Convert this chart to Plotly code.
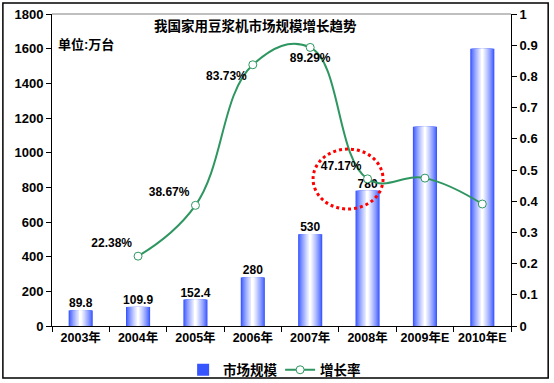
import plotly.graph_objects as go

categories = ["2003年", "2004年", "2005年", "2006年", "2007年", "2008年", "2009年E", "2010年E"]
market_size = [89.8, 109.9, 152.4, 280, 530, 780, 1150, 1600]
size_labels = ["89.8", "109.9", "152.4", "280", "530", "780", "", ""]
growth_categories = ["2004年", "2005年", "2006年", "2007年", "2008年", "2009年E", "2010年E"]
growth_rate = [0.2238, 0.3867, 0.8373, 0.8929, 0.4717, 0.474, 0.391]
growth_labels = ["22.38%", "38.67%", "83.73%", "89.29%", "47.17%", "", ""]
growth_label_pos = ["top left", "top left", "bottom left", "bottom center", "top left", "top left", "top left"]

FONT = "Liberation Sans, Arial, Noto Sans CJK SC, sans-serif"
fig = go.Figure()

# gradient bars: stacked overlay layers from blue edges to white centre
N = 14
w0 = 0.42
edge = (55, 85, 255)
for i in range(N):
    t = i / (N - 1)
    t = t ** 0.8
    c = tuple(int(edge[k] + (255 - edge[k]) * t) for k in range(3))
    fig.add_trace(go.Bar(
        x=categories, y=market_size,
        width=w0 * (1 - i / N),
        marker=dict(color="rgb(%d,%d,%d)" % c, line=dict(width=0)),
        name="市场规模", showlegend=(i == 0), legendgroup="bar",
        hoverinfo="skip" if i else None,
    ))

fig.add_trace(go.Scatter(
    x=categories, y=market_size, text=size_labels, mode="text",
    textposition="top center", showlegend=False,
    textfont=dict(family=FONT, size=12, color="black", weight="bold"), cliponaxis=False,
))

fig.add_trace(go.Scatter(
    x=growth_categories, y=growth_rate, yaxis="y2",
    mode="lines+markers+text", name="增长率",
    line=dict(color="#2E9660", width=2, shape="spline", smoothing=1.2),
    marker=dict(symbol="circle", size=8, color="white", line=dict(color="#2E9660", width=1)),
    text=growth_labels, textposition=growth_label_pos,
    textfont=dict(family=FONT, size=12, color="black", weight="bold"), cliponaxis=False,
))

tf = dict(family=FONT, size=13, color="black", weight="bold")
fig.update_layout(
    width=554, height=383,
    margin=dict(l=52, r=43, t=14, b=57, autoexpand=False),
    paper_bgcolor="white", plot_bgcolor="white",
    barmode="overlay",
    font=dict(family=FONT, size=12, color="black"),
    xaxis=dict(type="category", range=[-0.5, 7.5], showline=True, linecolor="black", linewidth=1,
               ticks="outside", tickson="boundaries", ticklen=5, tickcolor="black", tickangle=0,
               tickfont=dict(family=FONT, size=12.5, color="black", weight="bold"),
               showgrid=False, zeroline=False, automargin=False),
    yaxis=dict(range=[0, 1800], dtick=200, showline=True, linecolor="black", linewidth=1,
               ticks="outside", ticklen=5, tickcolor="black",
               tickfont=tf, showgrid=False, zeroline=False, automargin=False),
    yaxis2=dict(range=[0, 1], dtick=0.1, overlaying="y", side="right", showline=True,
                linecolor="black", linewidth=1, ticks="outside", ticklen=5, tickcolor="black",
                tickfont=tf, showgrid=False, zeroline=False, automargin=False),
    legend=dict(orientation="h", x=0.497, xanchor="center", y=-0.141, yanchor="middle",
                font=dict(family=FONT, size=13.5, color="black", weight="bold"),
                bgcolor="rgba(0,0,0,0)", tracegroupgap=0, itemwidth=30,
                entrywidth=52, entrywidthmode="pixels"),
    showlegend=True,
    annotations=[
        dict(text="<b>我国家用豆浆机市场规模增长趋势</b>", xref="paper", yref="paper",
             x=0.444, y=0.962, xanchor="center", yanchor="middle", showarrow=False,
             font=dict(family=FONT, size=13.5, color="black")),
        dict(text="<b>单位:万台</b>", xref="paper", yref="paper",
             x=0.008, y=0.903, xanchor="left", yanchor="middle", showarrow=False,
             font=dict(family=FONT, size=13, color="black")),
    ],
    shapes=[
        dict(type="line", xref="paper", yref="paper", x0=0, x1=1, y0=1, y1=1,
             line=dict(color="gray", width=1)),
        dict(type="circle", xref="x", yref="y", x0=4.05, x1=5.27, y0=675, y1=1021,
             line=dict(color="red", width=3, dash="dot")),
        dict(type="rect", xref="paper", yref="paper", x0=-0.107, x1=1.081, y0=-0.167, y1=1.035,
             line=dict(color="black", width=1.5)),
    ],
)

fig.write_html("out.html", config={"displayModeBar": False},
               post_script="document.body.style.margin='0';document.body.style.padding='0';")
